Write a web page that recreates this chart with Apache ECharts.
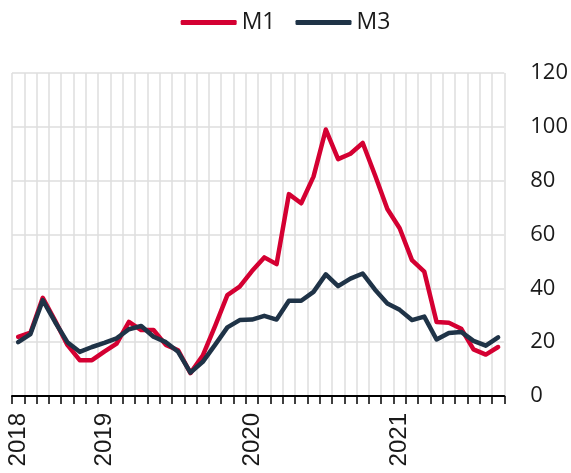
<!DOCTYPE html>
<html>
<head>
<meta charset="utf-8">
<script src="https://cdn.jsdelivr.net/npm/echarts@6/dist/echarts.min.js"></script>
<style>html,body{margin:0;padding:0;background:#fff}#c{width:571px;height:473px}</style>
</head>
<body>
<div id="c"></div>
<script>
var months = [
  '2018-06','2018-07','2018-08','2018-09','2018-10','2018-11','2018-12',
  '2019-01','2019-02','2019-03','2019-04','2019-05','2019-06','2019-07','2019-08','2019-09','2019-10','2019-11','2019-12',
  '2020-01','2020-02','2020-03','2020-04','2020-05','2020-06','2020-07','2020-08','2020-09','2020-10','2020-11','2020-12',
  '2021-01','2021-02','2021-03','2021-04','2021-05','2021-06','2021-07','2021-08','2021-09'
];
var m1 = [22, 23.5, 36.5, 28, 19, 13.3, 13.3, 16.5, 19.5, 27.5, 24.5, 24.5, 19, 17, 8.5, 15, 26, 37.5, 40.6, 46.4,
          51.5, 49, 75, 71.6, 81.5, 99, 88, 90, 94, 82, 69.5, 62.3, 50.5, 46.2, 27.5, 27.2, 25, 17.3, 15.4, 18.2];
var m3 = [20, 23, 35.6, 27.5, 20, 16.4, 18.2, 19.7, 21.4, 24.8, 26, 22, 20, 16.4, 8.7, 12.7, 19, 25.5, 28.2, 28.4,
          29.8, 28.4, 35.4, 35.4, 38.7, 45.2, 40.8, 43.6, 45.5, 39.5, 34.4, 32, 28.2, 29.5, 21, 23.4, 23.8, 20.5, 18.7, 21.8];
var yearLabelMonths = ['2018-06', '2019-01', '2020-01', '2021-01'];
var yTicks = { min: 0, max: 120, interval: 20 };

var chart = echarts.init(document.getElementById('c'), null, { renderer: 'canvas' });
chart.setOption({
  animation: false,
  legend: {
    top: 6,
    left: 'center',
    icon: 'roundRect',
    itemWidth: 56,
    itemHeight: 5,
    itemGap: 20,
    textStyle: { fontFamily: 'Open Sans', fontSize: 23, color: '#1a1a1a', padding: [0, 0, 0, 0] },
    data: ['M1', 'M3']
  },
  grid: { left: 12, right: 66, top: 73, bottom: 77, containLabel: false },
  xAxis: {
    type: 'category',
    data: months,
    boundaryGap: true,
    axisLine: { show: true, lineStyle: { color: '#000', width: 2 } },
    axisTick: { show: true, interval: 0, length: 8, lineStyle: { color: '#000', width: 1.5 } },
    splitLine: { show: true, interval: 0, lineStyle: { color: '#dedede', width: 1.5 } },
    axisLabel: {
      interval: function (i, v) { return yearLabelMonths.indexOf(v) >= 0; },
      formatter: function (v) { return v.slice(0, 4); },
      rotate: 90,
      margin: 17,
      fontFamily: 'Liberation Sans',
      fontSize: 24,
      color: '#1a1a1a'
    }
  },
  yAxis: {
    type: 'value',
    position: 'right',
    min: yTicks.min,
    max: yTicks.max,
    interval: yTicks.interval,
    axisLine: { show: false },
    axisTick: { show: false },
    splitLine: { show: true, lineStyle: { color: '#dedede', width: 1.5 } },
    axisLabel: { margin: 26, fontFamily: 'Open Sans', fontSize: 22, color: '#1a1a1a' }
  },
  series: [
    { name: 'M1', type: 'line', data: m1, symbol: 'none', color: '#d40032',
      lineStyle: { width: 4.5, color: '#d40032', join: 'round', cap: 'round' } },
    { name: 'M3', type: 'line', data: m3, symbol: 'none', color: '#1f3347',
      lineStyle: { width: 4.5, color: '#1f3347', join: 'round', cap: 'round' } }
  ]
});
</script>
</body>
</html>
